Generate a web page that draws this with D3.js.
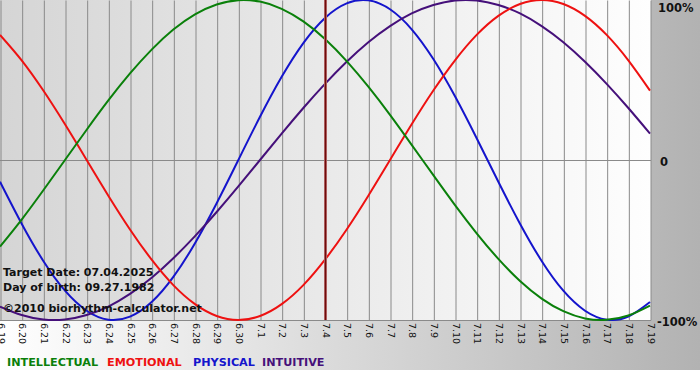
<!DOCTYPE html>
<html>
<head>
<meta charset="utf-8">
<script src="https://cdn.jsdelivr.net/npm/d3@7"></script>
<style>
html,body{margin:0;padding:0;background:#ffffff;}
svg{display:block;}
text{font-family:"DejaVu Sans",Verdana,sans-serif;}
</style>
</head>
<body>
<svg id="chart" width="700" height="380"></svg>
<script>
// ---- data ----
const dayLabels = ["6.19","6.20","6.21","6.22","6.23","6.24","6.25","6.26","6.27","6.28","6.29","6.30",
  "7.1","7.2","7.3","7.4","7.5","7.6","7.7","7.8","7.9","7.10","7.11","7.12","7.13","7.14","7.15","7.16","7.17","7.18","7.19"];
const intellectual = [-0.541,-0.372,-0.189,0.000,0.189,0.372,0.541,0.690,0.815,0.910,0.972,0.999,0.990,0.945,0.866,0.756,
  0.618,0.458,0.282,0.095,-0.095,-0.282,-0.458,-0.618,-0.756,-0.866,-0.945,-0.990,-0.999,-0.972,-0.910];
const emotional = [0.782,0.623,0.434,0.223,0.000,-0.223,-0.434,-0.623,-0.782,-0.901,-0.975,-1.000,-0.975,-0.901,-0.782,-0.623,
  -0.434,-0.223,0.000,0.223,0.434,0.623,0.782,0.901,0.975,1.000,0.975,0.901,0.782,0.623,0.434];
const physical = [-0.136,-0.398,-0.631,-0.817,-0.942,-0.998,-0.979,-0.888,-0.731,-0.520,-0.270,0.000,0.270,0.520,0.731,0.888,
  0.979,0.998,0.942,0.817,0.631,0.398,0.136,-0.136,-0.398,-0.631,-0.817,-0.942,-0.998,-0.979,-0.888];
const intuitive = [-0.916,-0.969,-0.997,-0.997,-0.969,-0.916,-0.837,-0.736,-0.614,-0.476,-0.325,-0.165,0.000,0.165,0.325,0.476,
  0.614,0.736,0.837,0.916,0.969,0.997,0.997,0.969,0.916,0.837,0.736,0.614,0.476,0.325,0.165];
const yTickLabels = ["100%","0","-100%"];
const yTickValues = [1,0,-1];
const targetLabel = "7.4";
const infoLines = ["Target Date: 07.04.2025","Day of birth: 09.27.1982","©2010 biorhythm-calculator.net"];
const legendNames = ["INTELLECTUAL","EMOTIONAL","PHYSICAL","INTUITIVE"];

// ---- layout ----
const svg = d3.select("#chart");
const W = 700, H = 380;
const plotL = 0, plotR = 650, plotT = 0, plotB = 320;
const colors = {INTELLECTUAL:"#0a800a", EMOTIONAL:"#ee1111", PHYSICAL:"#1414cc", INTUITIVE:"#45107a"};

const x = d3.scalePoint().domain(dayLabels).range([plotL, plotR]);
const y = d3.scaleLinear().domain([-1, 1]).range([plotB, plotT]);

const defs = svg.append("defs");
const gOuter = defs.append("linearGradient").attr("id","gOuter").attr("x1","0").attr("x2","1").attr("y1","0").attr("y2","0");
gOuter.append("stop").attr("offset","0").attr("stop-color","#ffffff");
gOuter.append("stop").attr("offset","1").attr("stop-color","#b2b2b2");
const gPlot = defs.append("linearGradient").attr("id","gPlot").attr("x1","0").attr("x2","1").attr("y1","0").attr("y2","0");
gPlot.append("stop").attr("offset","0").attr("stop-color","#d5d5d5");
gPlot.append("stop").attr("offset","1").attr("stop-color","#fefefe");
defs.append("clipPath").attr("id","clipPlot").append("rect")
  .attr("x",plotL).attr("y",plotT-2).attr("width",plotR-plotL+1).attr("height",plotB-plotT+4);

svg.append("rect").attr("x",0).attr("y",0).attr("width",W).attr("height",370).attr("fill","url(#gOuter)");
svg.append("rect").attr("x",plotL).attr("y",plotT).attr("width",plotR-plotL+1).attr("height",plotB-plotT+1).attr("fill","url(#gPlot)");

// vertical grid via axis
const xAxisGrid = d3.axisBottom(x).tickSize(-(plotB-plotT)).tickFormat("");
svg.append("g").attr("transform",`translate(0.5,${plotB+0.5})`).call(xAxisGrid)
  .call(g=>g.select(".domain").remove())
  .call(g=>g.selectAll("line").attr("stroke","#8a8a8a").attr("stroke-width",1));

// horizontal lines at 0 and bottom
svg.append("g").selectAll("line").data([0,-1]).join("line")
  .attr("x1",plotL).attr("x2",plotR+1)
  .attr("y1",d=>Math.round(y(d))+0.5).attr("y2",d=>Math.round(y(d))+0.5)
  .attr("stroke","#8a8a8a").attr("stroke-width",1);

// x tick labels rotated
const xAxis = d3.axisBottom(x).tickSize(0).tickPadding(0);
svg.append("g").attr("transform",`translate(0.5,${plotB})`).call(xAxis)
  .call(g=>g.select(".domain").remove())
  .call(g=>g.selectAll("text")
     .attr("transform","rotate(90)")
     .attr("x",3).attr("y",0).attr("dy","0.35em")
     .attr("text-anchor","start")
     .attr("font-family","\"DejaVu Sans\",Verdana,sans-serif")
     .attr("font-size",9.5).attr("fill","#111"));

// y labels on right
const yAxis = d3.axisRight(y).tickValues(yTickValues).tickSize(0).tickPadding(0)
  .tickFormat((d,i)=>yTickLabels[i]);
svg.append("g").attr("transform",`translate(${plotR+7},0)`).call(yAxis)
  .call(g=>g.select(".domain").remove())
  .call(g=>g.selectAll("text")
     .attr("font-family","\"DejaVu Sans\",Verdana,sans-serif")
     .attr("font-weight","bold").attr("font-size",11.5).attr("fill","#111")
     .attr("dy","0.35em")
     .attr("x",(d)=> d===0 ? 3 : (d===1 ? 1 : 0))
     .attr("y",(d)=> d===1 ? 7 : (d===-1 ? 1 : 1)));

// curves
const line = d3.line().x((d,i)=>x(dayLabels[i])).y(d=>y(d)).curve(d3.curveNatural);
const series = [
  {name:"PHYSICAL", values:physical},
  {name:"INTUITIVE", values:intuitive},
  {name:"EMOTIONAL", values:emotional},
  {name:"INTELLECTUAL", values:intellectual}
];
const gLines = svg.append("g").attr("clip-path","url(#clipPlot)");
gLines.selectAll("path").data(series).join("path")
  .attr("d",d=>line(d.values)).attr("fill","none")
  .attr("stroke",d=>colors[d.name]).attr("stroke-width",2);

// target line
const tx = x(targetLabel);
svg.append("line").attr("x1",tx+0.5).attr("x2",tx+0.5).attr("y1",plotT).attr("y2",plotB)
  .attr("stroke","#c88080").attr("stroke-width",3);
svg.append("line").attr("x1",tx+0.5).attr("x2",tx+0.5).attr("y1",plotT).attr("y2",plotB)
  .attr("stroke","#6e0c0c").attr("stroke-width",1.6);

// info text
const infoY = [276, 291, 312];
svg.append("g").selectAll("text").data(infoLines).join("text")
  .attr("x",3).attr("y",(d,i)=>infoY[i])
  .attr("font-weight","bold").attr("font-size",11).attr("fill","#111")
  .text(d=>d);

// legend
const legendX = [7, 107, 193, 262];
svg.append("g").selectAll("text").data(legendNames).join("text")
  .attr("x",(d,i)=>legendX[i]).attr("y",366)
  .attr("font-weight","bold").attr("font-size",11.2)
  .attr("fill",d=>colors[d])
  .text(d=>d);
</script>
</body>
</html>
